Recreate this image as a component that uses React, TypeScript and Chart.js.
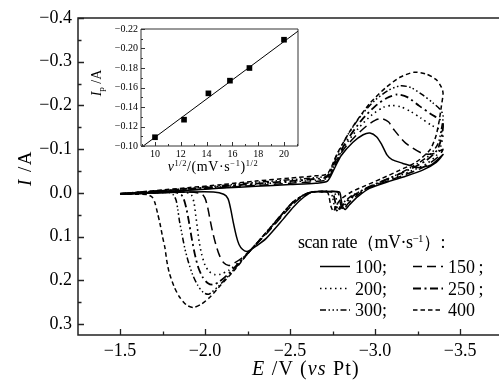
import React, { useEffect, useRef } from 'react';
import { Chart, registerables } from 'chart.js';

Chart.register(...registerables);

const SERIF = '"Liberation Serif", "Times New Roman", serif';

// ---------- main chart axes ----------
const mainXTicks = [-1.5, -2.0, -2.5, -3.0, -3.5];
const mainXMinor = [-1.75, -2.25, -2.75, -3.25];
const mainYTicks = [-0.4, -0.3, -0.2, -0.1, 0.0, 0.1, 0.2, 0.3];
const mainYMinor = [-0.35, -0.25, -0.15, -0.05, 0.05, 0.15, 0.25];

// ---------- cyclic voltammograms: potential (V vs Pt) and current (A) ----------
const e100 = [-1.5, -1.7, -1.9, -2.1, -2.3, -2.5, -2.65, -2.72, -2.76, -2.8, -2.87, -2.93, -2.97, -3.01, -3.04, -3.07, -3.1, -3.16, -3.25, -3.33, -3.4,
  -3.36, -3.28, -3.18, -3.08, -2.97, -2.9, -2.85, -2.825, -2.81, -2.8, -2.79, -2.7, -2.63, -2.58, -2.52, -2.46, -2.36, -2.3, -2.265, -2.245, -2.22, -2.2, -2.185, -2.165, -2.15, -2.135, -2.11, -2.05, -1.9, -1.7, -1.5];
const i100 = [0.002, -0.002, -0.006, -0.011, -0.015, -0.019, -0.022, -0.027, -0.055, -0.085, -0.116, -0.133, -0.137, -0.128, -0.11, -0.087, -0.076, -0.068, -0.058, -0.064, -0.088,
  -0.07, -0.052, -0.038, -0.026, -0.011, 0.008, 0.027, 0.038, 0.032, 0.014, -0.002, -0.003, -0.002, 0.01, 0.032, 0.06, 0.104, 0.122, 0.131, 0.134, 0.129, 0.118, 0.1, 0.065, 0.035, 0.013, 0.003, -0.002, -0.002, 0.0, 0.003];

const e150 = [-1.5, -1.7, -1.9, -2.1, -2.3, -2.5, -2.65, -2.72, -2.76, -2.81, -2.88, -2.95, -3.0, -3.04, -3.08, -3.11, -3.18, -3.28, -3.35, -3.4,
  -3.37, -3.28, -3.18, -3.08, -2.98, -2.9, -2.84, -2.815, -2.8, -2.79, -2.78, -2.7, -2.63, -2.58, -2.52, -2.46, -2.36, -2.28, -2.22, -2.17, -2.14, -2.11, -2.085, -2.065, -2.045, -2.03, -2.015, -2.0, -1.98, -1.9, -1.7, -1.5];
const i150 = [0.002, -0.003, -0.007, -0.012, -0.017, -0.022, -0.026, -0.031, -0.06, -0.097, -0.128, -0.153, -0.166, -0.17, -0.162, -0.145, -0.114, -0.09, -0.09, -0.1,
  -0.082, -0.058, -0.042, -0.028, -0.014, 0.004, 0.025, 0.039, 0.03, 0.012, -0.002, -0.003, -0.002, 0.006, 0.025, 0.05, 0.094, 0.126, 0.148, 0.161, 0.166, 0.16, 0.143, 0.12, 0.09, 0.062, 0.032, 0.012, 0.002, -0.002, 0.0, 0.003];

const e200 = [-1.5, -1.7, -1.9, -2.1, -2.3, -2.5, -2.65, -2.72, -2.77, -2.83, -2.9, -2.98, -3.05, -3.1, -3.15, -3.21, -3.27, -3.33, -3.38, -3.4,
  -3.385, -3.36, -3.3, -3.2, -3.1, -3.0, -2.92, -2.85, -2.81, -2.795, -2.78, -2.77, -2.76, -2.7, -2.63, -2.58, -2.52, -2.46, -2.36, -2.28, -2.2, -2.14, -2.09, -2.06, -2.025, -2.0, -1.98, -1.965, -1.955, -1.945, -1.935, -1.92, -1.88, -1.7, -1.5];
const i200 = [0.002, -0.003, -0.008, -0.014, -0.02, -0.025, -0.029, -0.034, -0.072, -0.112, -0.147, -0.178, -0.196, -0.2, -0.197, -0.186, -0.171, -0.155, -0.145, -0.135,
  -0.105, -0.085, -0.066, -0.048, -0.033, -0.018, -0.003, 0.016, 0.033, 0.04, 0.028, 0.01, -0.002, -0.003, -0.002, 0.005, 0.022, 0.047, 0.092, 0.126, 0.158, 0.177, 0.186, 0.187, 0.18, 0.165, 0.14, 0.11, 0.08, 0.05, 0.022, 0.005, -0.002, 0.0, 0.003];

const e250 = [-1.5, -1.7, -1.9, -2.1, -2.3, -2.5, -2.65, -2.72, -2.77, -2.84, -2.92, -3.0, -3.07, -3.13, -3.19, -3.26, -3.33, -3.38, -3.4,
  -3.39, -3.365, -3.3, -3.2, -3.1, -3.0, -2.92, -2.85, -2.8, -2.785, -2.77, -2.76, -2.75, -2.7, -2.63, -2.58, -2.52, -2.46, -2.36, -2.28, -2.2, -2.13, -2.08, -2.045, -2.015, -1.985, -1.96, -1.94, -1.92, -1.905, -1.89, -1.875, -1.86, -1.82, -1.7, -1.5];
const i250 = [0.002, -0.004, -0.009, -0.015, -0.021, -0.027, -0.032, -0.037, -0.076, -0.123, -0.166, -0.198, -0.217, -0.225, -0.219, -0.199, -0.18, -0.168, -0.158,
  -0.125, -0.098, -0.074, -0.053, -0.036, -0.02, -0.005, 0.013, 0.032, 0.04, 0.028, 0.01, -0.002, -0.003, -0.002, 0.005, 0.021, 0.046, 0.091, 0.126, 0.16, 0.188, 0.204, 0.21, 0.206, 0.192, 0.17, 0.14, 0.1, 0.065, 0.035, 0.014, 0.004, -0.002, 0.0, 0.003];

const e300 = [-1.5, -1.7, -1.9, -2.1, -2.3, -2.5, -2.65, -2.72, -2.77, -2.84, -2.92, -3.0, -3.08, -3.15, -3.21, -3.28, -3.34, -3.38, -3.4,
  -3.39, -3.37, -3.32, -3.22, -3.12, -3.02, -2.93, -2.85, -2.8, -2.775, -2.76, -2.75, -2.74, -2.7, -2.63, -2.58, -2.52, -2.46, -2.36, -2.28, -2.2, -2.13, -2.08, -2.04, -2.02, -1.99, -1.955, -1.925, -1.9, -1.88, -1.865, -1.85, -1.84, -1.83, -1.815, -1.78, -1.65, -1.5];
const i300 = [0.002, -0.004, -0.01, -0.017, -0.024, -0.03, -0.035, -0.04, -0.082, -0.133, -0.178, -0.212, -0.235, -0.245, -0.241, -0.224, -0.206, -0.192, -0.178,
  -0.145, -0.112, -0.086, -0.06, -0.04, -0.023, -0.007, 0.01, 0.028, 0.041, 0.028, 0.01, -0.002, -0.003, -0.002, 0.005, 0.02, 0.045, 0.09, 0.126, 0.162, 0.193, 0.213, 0.227, 0.232, 0.228, 0.21, 0.185, 0.155, 0.125, 0.095, 0.065, 0.038, 0.017, 0.005, -0.002, 0.0, 0.003];

const e400 = [-1.5, -1.7, -1.9, -2.1, -2.3, -2.5, -2.65, -2.72, -2.78, -2.87, -2.97, -3.07, -3.15, -3.23, -3.3, -3.36, -3.39, -3.4,
  -3.39, -3.375, -3.355, -3.32, -3.24, -3.14, -3.04, -2.94, -2.86, -2.8, -2.77, -2.755, -2.74, -2.73, -2.72, -2.68, -2.63, -2.58, -2.52, -2.46, -2.36, -2.27, -2.17, -2.09, -2.03, -1.98, -1.93, -1.89, -1.85, -1.82, -1.79, -1.775, -1.765, -1.75, -1.735, -1.72, -1.705, -1.69, -1.66, -1.6, -1.5];
const i400 = [0.002, -0.005, -0.012, -0.019, -0.027, -0.034, -0.039, -0.044, -0.092, -0.152, -0.205, -0.243, -0.265, -0.276, -0.272, -0.259, -0.242, -0.228,
  -0.198, -0.16, -0.126, -0.097, -0.07, -0.051, -0.033, -0.016, -0.002, 0.014, 0.03, 0.042, 0.03, 0.01, -0.002, -0.003, -0.002, 0.005, 0.02, 0.045, 0.091, 0.13, 0.178, 0.212, 0.238, 0.254, 0.262, 0.256, 0.238, 0.216, 0.183, 0.155, 0.127, 0.1, 0.07, 0.045, 0.022, 0.01, 0.004, 0.003, 0.003];

const scanRates = ['100', '150', '200', '250', '300', '400'];

// ---------- inset: peak current vs square root of scan rate ----------
const insetX = [10, 12.25, 14.14, 15.81, 17.32, 20];
const insetIp = [-0.109, -0.127, -0.154, -0.167, -0.18, -0.209];
const fitX = [9.09, 21.085];
const fitY = [-0.1, -0.2178];
const insetXTicks = [10, 12, 14, 16, 18, 20];
const insetXMinor = [9, 11, 13, 15, 17, 19, 21];
const insetYTicks = [-0.22, -0.2, -0.18, -0.16, -0.14, -0.12, -0.1];
const insetYMinor = [-0.21, -0.19, -0.17, -0.15, -0.13, -0.11];

// ---------- styles ----------
const curveStyles = [
  { dash: [], width: 1.5 },
  { dash: [9, 5], width: 1.5 },
  { dash: [1.5, 3.5], width: 1.6 },
  { dash: [8, 3.5, 2, 3.5], width: 1.8 },
  { dash: [6, 2.5, 1.5, 2.5, 1.5, 2.5, 1.5, 2.5], width: 1.5 },
  { dash: [4.5, 3], width: 1.5 },
];
const curves = [[e100, i100], [e150, i150], [e200, i200], [e250, i250], [e300, i300], [e400, i400]];

const pts = (xs: number[], ys: number[]) => xs.map((x, k) => ({ x, y: ys[k] }));
const minus = (s: string) => s.replace('-', '\u2212');

function framePlugin(id: string, cfg: any) {
  return {
    id,
    afterDraw(chart: any) {
      const { ctx, chartArea: a, scales } = chart;
      const sx = scales.x;
      const sy = scales.y;
      ctx.save();
      ctx.strokeStyle = cfg.color;
      ctx.lineWidth = cfg.tickWidth;
      ctx.beginPath();
      const addX = (vals: number[], len: number) => {
        for (const v of vals) {
          const p = Math.round(sx.getPixelForValue(v)) + 0.5;
          ctx.moveTo(p, a.bottom);
          ctx.lineTo(p, a.bottom - len);
        }
      };
      const addY = (vals: number[], len: number) => {
        for (const v of vals) {
          const p = Math.round(sy.getPixelForValue(v)) + 0.5;
          ctx.moveTo(a.left, p);
          ctx.lineTo(a.left + len, p);
        }
      };
      addX(cfg.xMajor, cfg.major);
      addX(cfg.xMinor, cfg.minor);
      addY(cfg.yMajor, cfg.major);
      addY(cfg.yMinor, cfg.minor);
      ctx.stroke();
      ctx.lineWidth = cfg.frameWidth;
      ctx.beginPath();
      if (cfg.box) {
        ctx.rect(a.left, a.top, a.right - a.left, a.bottom - a.top);
      } else {
        ctx.moveTo(a.right, a.top);
        ctx.lineTo(a.left, a.top);
        ctx.lineTo(a.left, a.bottom);
        ctx.lineTo(a.right, a.bottom);
      }
      ctx.stroke();
      ctx.restore();
    },
  };
}

export default function App() {
  const mainRef = useRef<HTMLCanvasElement>(null);
  const insetRef = useRef<HTMLCanvasElement>(null);

  useEffect(() => {
    const main = new Chart(mainRef.current as HTMLCanvasElement, {
      type: 'line',
      data: {
        datasets: curves.map(([e, i], k) => ({
          label: scanRates[k],
          data: pts(e, i),
          borderColor: '#000',
          borderWidth: curveStyles[k].width,
          borderDash: curveStyles[k].dash,
          pointRadius: 0,
          tension: 0.25,
          fill: false,
        })),
      },
      options: {
        animation: false,
        responsive: false,
        layout: { padding: { top: 18, right: 0, left: 0, bottom: 0 } },
        plugins: { legend: { display: false }, tooltip: { enabled: false } },
        scales: {
          x: {
            type: 'linear',
            reverse: true,
            min: -3.729,
            max: -1.253,
            afterFit: (s: any) => { s.height = 50; },
            afterBuildTicks: (s: any) => { s.ticks = mainXTicks.map((v) => ({ value: v })); },
            grid: { display: false, drawTicks: false },
            border: { display: false },
            ticks: {
              padding: 5,
              color: '#000',
              autoSkip: false,
              maxRotation: 0,
              font: { family: SERIF, size: 18 },
              callback: (v: any) => minus(Number(v).toFixed(1)),
            },
          },
          y: {
            type: 'linear',
            reverse: true,
            min: -0.4,
            max: 0.325,
            afterFit: (s: any) => { s.width = 78; },
            afterBuildTicks: (s: any) => { s.ticks = mainYTicks.map((v) => ({ value: v })); },
            grid: { display: false, drawTicks: false },
            border: { display: false },
            ticks: {
              padding: 6,
              color: '#000',
              autoSkip: false,
              font: { family: SERIF, size: 18 },
              callback: (v: any) => minus(Number(v).toFixed(1)),
            },
          },
        },
      } as any,
      plugins: [framePlugin('mainFrame', {
        color: '#222', tickWidth: 1.3, frameWidth: 1.5, major: 6, minor: 3.5, box: false,
        xMajor: mainXTicks, xMinor: mainXMinor, yMajor: mainYTicks, yMinor: mainYMinor,
      })],
    });

    const inset = new Chart(insetRef.current as HTMLCanvasElement, {
      type: 'line',
      data: {
        datasets: [
          {
            label: 'fit',
            data: pts(fitX, fitY),
            borderColor: '#000',
            borderWidth: 1,
            pointRadius: 0,
            fill: false,
          },
          {
            label: 'Ip',
            data: pts(insetX, insetIp),
            showLine: false,
            pointStyle: 'rect',
            pointRadius: 4,
            pointBackgroundColor: '#000',
            pointBorderColor: '#000',
            pointBorderWidth: 0,
          },
        ],
      },
      options: {
        animation: false,
        responsive: false,
        layout: { padding: { top: 7, right: 7, left: 0, bottom: 0 } },
        plugins: { legend: { display: false }, tooltip: { enabled: false } },
        scales: {
          x: {
            type: 'linear',
            min: 8.915,
            max: 21.085,
            afterFit: (s: any) => { s.height = 39; },
            afterBuildTicks: (s: any) => { s.ticks = insetXTicks.map((v) => ({ value: v })); },
            grid: { display: false, drawTicks: false },
            border: { display: false },
            ticks: {
              padding: 2,
              color: '#000',
              autoSkip: false,
              maxRotation: 0,
              font: { family: SERIF, size: 10 },
              callback: (v: any) => String(Math.round(Number(v))),
            },
          },
          y: {
            type: 'linear',
            reverse: true,
            min: -0.22,
            max: -0.1,
            afterFit: (s: any) => { s.width = 46; },
            afterBuildTicks: (s: any) => { s.ticks = insetYTicks.map((v) => ({ value: v })); },
            grid: { display: false, drawTicks: false },
            border: { display: false },
            ticks: {
              padding: 3,
              color: '#000',
              autoSkip: false,
              font: { family: SERIF, size: 10 },
              callback: (v: any) => minus(Number(v).toFixed(2)),
            },
          },
        },
      } as any,
      plugins: [framePlugin('insetFrame', {
        color: '#333', tickWidth: 1, frameWidth: 1, major: 4, minor: 2, box: true,
        xMajor: insetXTicks, xMinor: insetXMinor, yMajor: insetYTicks, yMinor: insetYMinor,
      })],
    });

    return () => {
      main.destroy();
      inset.destroy();
    };
  }, []);

  const abs = (s: any): React.CSSProperties => ({
    position: 'absolute',
    fontFamily: SERIF,
    color: '#000',
    whiteSpace: 'nowrap',
    ...s,
  });
  const supStyle: React.CSSProperties = { fontSize: '0.6em', verticalAlign: '0.55em', lineHeight: 0 };
  const subStyle: React.CSSProperties = { fontSize: '0.65em', verticalAlign: '-0.3em', lineHeight: 0 };

  const legendCols = [320, 413];
  const legendTextCols = [355, 448];
  const legendRows = [266.5, 288.5, 310];
  const legendLabels = ['100;', '150\u2009;', '200;', '250\u2009;', '300;', '400'];

  return (
    <div style={{ position: 'fixed', left: 0, top: 0, width: 499, height: 385, background: '#fff', overflow: 'hidden' }}>
      <canvas ref={mainRef} width={499} height={385} style={{ position: 'absolute', left: 0, top: 0, width: 499, height: 385 }} />
      <canvas ref={insetRef} width={210} height={165} style={{ position: 'absolute', left: 95, top: 20, width: 210, height: 165 }} />

      {/* main axis titles */}
      <div style={abs({ left: -10, top: 157, width: 70, height: 22, lineHeight: '22px', textAlign: 'center', fontSize: 19, letterSpacing: 1.5, transform: 'rotate(-90deg)' })}>
        <i>I</i> /A
      </div>
      <div style={abs({ left: 231, top: 357, width: 150, height: 22, lineHeight: '22px', textAlign: 'center', fontSize: 20, letterSpacing: 1.2 })}>
        <i>E</i> /V (<i>vs</i> Pt)
      </div>

      {/* inset axis titles */}
      <div style={abs({ left: 72, top: 74, width: 50, height: 18, lineHeight: '18px', textAlign: 'center', fontSize: 14, transform: 'rotate(-90deg)' })}>
        <i>I</i><span style={subStyle}>p</span> /A
      </div>
      <div style={abs({ left: 143, top: 157, width: 140, height: 20, lineHeight: '20px', textAlign: 'center', fontSize: 14, letterSpacing: 0.6 })}>
        <i>v</i><span style={supStyle}>1/2</span>/(mV·s<span style={supStyle}>−1</span>)<span style={supStyle}>1/2</span>
      </div>

      {/* legend */}
      <div style={abs({ left: 298, top: 232, height: 20, lineHeight: '20px', fontSize: 18, letterSpacing: -0.5 })}>
        scan rate（mV·s<span style={supStyle}>−1</span>）:
      </div>
      <svg width={499} height={385} style={{ position: 'absolute', left: 0, top: 0, pointerEvents: 'none' }}>
        {scanRates.map((r, k) => {
          const col = k % 2;
          const row = Math.floor(k / 2);
          const y = legendRows[row];
          return (
            <line key={r} x1={legendCols[col]} x2={legendCols[col] + 30} y1={y} y2={y}
              stroke="#000" strokeWidth={curveStyles[k].width}
              strokeDasharray={curveStyles[k].dash.length ? curveStyles[k].dash.join(' ') : undefined} />
          );
        })}
      </svg>
      {scanRates.map((r, k) => {
        const col = k % 2;
        const row = Math.floor(k / 2);
        return (
          <div key={r} style={abs({ left: legendTextCols[col], top: legendRows[row] - 10, height: 20, lineHeight: '20px', fontSize: 18 })}>
            {legendLabels[k]}
          </div>
        );
      })}
    </div>
  );
}
